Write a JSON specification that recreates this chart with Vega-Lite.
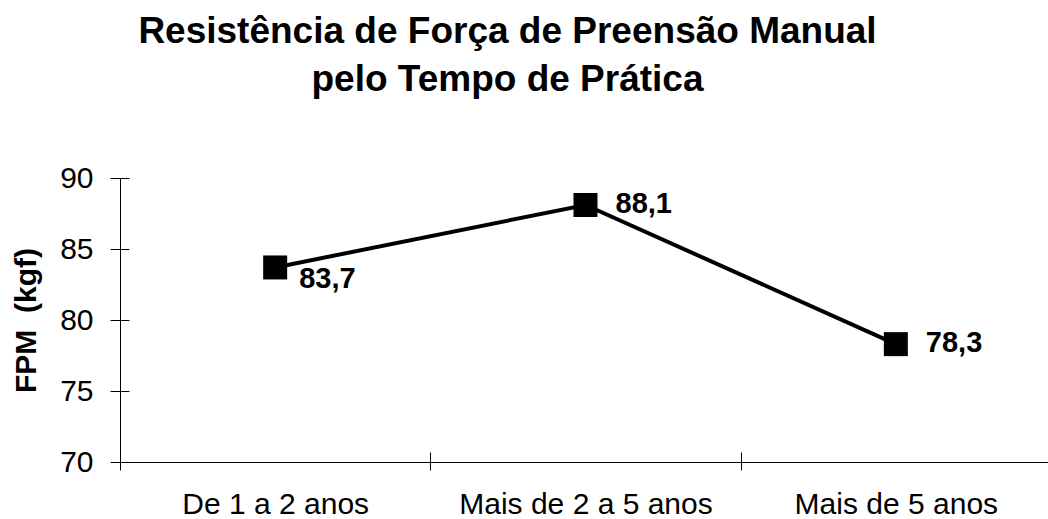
{
  "$schema": "https://vega.github.io/schema/vega-lite/v6.json",
  "width": 931,
  "height": 284,
  "autosize": {"type": "none"},
  "padding": {"left": 120, "top": 178, "right": 0, "bottom": 57},
  "background": "white",
  "config": {
    "view": {"stroke": null},
    "font": "Liberation Sans",
    "axis": {"labelFont": "Liberation Sans", "titleFont": "Liberation Sans", "grid": false}
  },
  "title": {
    "text": ["Resistência de Força de Preensão Manual", "pelo Tempo de Prática"],
    "font": "Liberation Sans",
    "fontSize": 37,
    "fontWeight": "bold",
    "color": "black",
    "lineHeight": 48,
    "anchor": "middle",
    "frame": "group",
    "dx": -78,
    "offset": 64
  },
  "data": {
    "values": [
      {"tempo": "De 1 a 2 anos", "fpm": 83.7, "label": "83,7"},
      {"tempo": "Mais de 2 a 5 anos", "fpm": 88.1, "label": "88,1"},
      {"tempo": "Mais de 5 anos", "fpm": 78.3, "label": "78,3"}
    ]
  },
  "resolve": {"axis": {"x": "independent", "y": "independent"}},
  "layer": [
    {
      "mark": {"type": "line", "color": "black", "strokeWidth": 4},
      "encoding": {
        "x": {
          "field": "tempo", "type": "nominal", "sort": null,
          "scale": {"type": "band", "paddingInner": 0, "paddingOuter": 0},
          "axis": {
            "title": null, "orient": "bottom", "labelAngle": 0, "labelFontSize": 30, "labelColor": "black",
            "labelLimit": 0,
            "tickBand": "extent", "tickSize": 8, "tickColor": "black", "domainColor": "black",
            "labelPadding": 19, "labelBaseline": "top"
          }
        },
        "y": {
          "field": "fpm", "type": "quantitative",
          "scale": {"domain": [70, 90], "nice": false, "zero": false},
          "axis": {
            "orient": "left", "values": [70, 75, 80, 85, 90],
            "title": "FPM\u00a0 (kgf)", "titleFontSize": 30, "titleFontWeight": "bold", "titleColor": "black",
            "titlePadding": 18,
            "labelFontSize": 30, "labelColor": "black", "labelPadding": 17,
            "tickSize": 10, "tickColor": "black", "domainColor": "black"
          }
        }
      }
    },
    {
      "mark": {"type": "point", "shape": "square", "filled": true, "color": "black", "size": 576, "opacity": 1},
      "encoding": {
        "x": {
          "field": "tempo", "type": "nominal", "sort": null,
          "axis": {"orient": "bottom", "title": null, "labels": false, "domain": false, "tickBand": "extent", "tickSize": -10, "tickColor": "black"}
        },
        "y": {
          "field": "fpm", "type": "quantitative",
          "axis": {"orient": "left", "title": null, "labels": false, "domain": false, "values": [70, 75, 80, 85, 90], "tickSize": -9, "tickColor": "black"}
        }
      }
    },
    {
      "transform": [{"filter": "datum.tempo === 'De 1 a 2 anos'"}],
      "mark": {"type": "text", "align": "left", "baseline": "alphabetic", "dx": 24, "dy": 21, "fontSize": 29, "fontWeight": "bold", "color": "black"},
      "encoding": {
        "x": {"field": "tempo", "type": "nominal", "sort": null, "axis": null},
        "y": {"field": "fpm", "type": "quantitative", "axis": null},
        "text": {"field": "label"}
      }
    },
    {
      "transform": [{"filter": "datum.tempo !== 'De 1 a 2 anos'"}],
      "mark": {"type": "text", "align": "left", "baseline": "middle", "dx": 30, "dy": -1, "fontSize": 29, "fontWeight": "bold", "color": "black"},
      "encoding": {
        "x": {"field": "tempo", "type": "nominal", "sort": null, "axis": null},
        "y": {"field": "fpm", "type": "quantitative", "axis": null},
        "text": {"field": "label"}
      }
    }
  ]
}
